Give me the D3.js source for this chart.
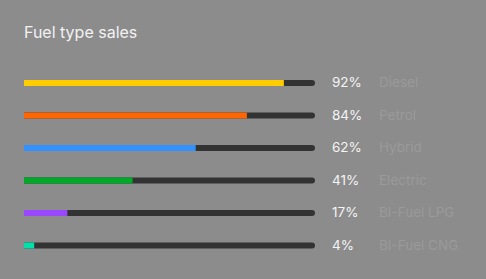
<!DOCTYPE html>
<html>
<head>
<meta charset="utf-8">
<script src="https://cdn.jsdelivr.net/npm/d3@7"></script>
<style>
  html, body { margin: 0; padding: 0; background: #8c8c8c; }
  svg { display: block; font-family: Inter, "Noto Sans", sans-serif; }
</style>
</head>
<body>
<svg id="chart" width="486" height="279"></svg>
<script>
"use strict";

// fuel types, top to bottom
let fuels = ["Diesel", "Petrol", "Hybrid", "Electric", "BI-Fuel LPG", "BI-Fuel CNG"];
// percentages printed next to each bar
let shares = [92, 84, 62, 41, 17, 4];
// how far each coloured fill reaches along its track (% of track)
let fills = [89.3, 76.6, 59, 37.3, 14.9, 3.5];
let colors = ["#ffcc00", "#ff6600", "#3392ff", "#00aa28", "#9a48ff", "#00e0a8"];

let svg = d3.select("#chart");
let W = 486, H = 279;

svg.append("rect").attr("width", W).attr("height", H).style("fill", "#8c8c8c");

svg.append("text")
  .attr("x", 24).attr("y", 38)
  .style("font-size", "16px")
  .style("fill", "#f2f2f2")
  .text("Fuel type sales");

let x = d3.scaleLinear().domain([0, 100]).range([24, 315]);
let y = d3.scalePoint().domain(fuels).range([83, 245.5]);
let barH = 6;

let rows = svg.selectAll("g.row").data(fuels).enter()
  .append("g")
  .attr("class", "row")
  .attr("transform", d => `translate(0,${y(d) - barH / 2})`);

// track: square on the left, rounded on the right
rows.append("path")
  .attr("d", () => {
    let x0 = x(0), x1 = x(100), r = barH / 2;
    return `M${x0},0H${x1 - r}A${r},${r} 0 0 1 ${x1 - r},${barH}H${x0}Z`;
  })
  .style("fill", "#333333");

rows.append("rect")
  .attr("x", x(0))
  .attr("width", (d, i) => x(fills[i]) - x(0))
  .attr("height", barH)
  .style("fill", (d, i) => colors[i]);

rows.append("text")
  .attr("x", 332)
  .attr("y", barH + 1)
  .style("font-size", "13.5px")
  .style("fill", "#f4f4f4")
  .text((d, i) => shares[i] + "%");

rows.append("text")
  .attr("x", 379)
  .attr("y", barH + 1)
  .style("font-size", "13.5px")
  .style("fill", "#9a9a9a")
  .text(d => d);
</script>
</body>
</html>
